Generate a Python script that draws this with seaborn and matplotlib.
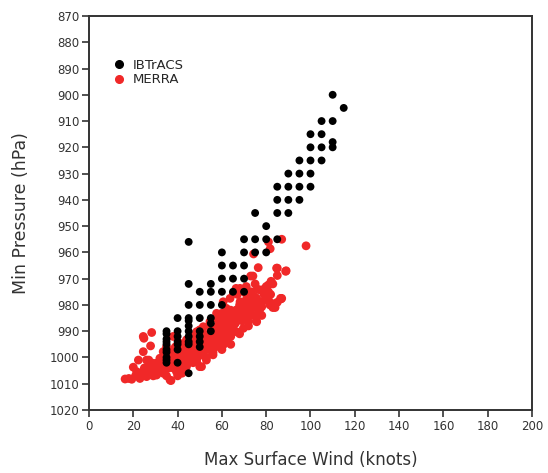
import numpy as np
import pandas as pd
import matplotlib
matplotlib.use("Agg")
import matplotlib.pyplot as plt
import seaborn as sns
from matplotlib.lines import Line2D

# IBTrACS best-track points (wind in knots, min pressure in hPa)
ibtracs_wind = [110, 115, 105, 110, 100, 105, 100, 105, 110, 110, 95, 100, 105,
                90, 95, 100, 85, 90, 95, 100, 85, 90, 95, 75, 85, 90, 80, 45,
                70, 75, 80, 85, 60, 70, 75, 80, 60, 65, 70, 60, 65, 70, 45, 55,
                50, 55, 60, 65, 70, 45, 50, 55, 60, 40, 45, 50, 55,
                35, 35, 35, 35, 35, 35, 35, 35, 35, 35,
                40, 40, 40, 40, 40, 40,
                45, 45, 45, 45, 45, 45, 45,
                50, 50, 50, 50, 55, 55]
ibtracs_pres = [900, 905, 910, 910, 915, 915, 920, 920, 918, 920, 925, 925, 925,
                930, 930, 930, 935, 935, 935, 935, 940, 940, 940, 945, 945, 945, 950, 956,
                955, 955, 955, 955, 960, 960, 960, 960, 965, 965, 965, 970, 970, 970, 972, 972,
                975, 975, 975, 975, 975, 980, 980, 980, 980, 985, 985, 985, 985,
                990, 991, 993, 994, 995, 997, 998, 1000, 1001, 1002,
                990, 992, 994, 995, 997, 1002,
                986, 988, 990, 992, 994, 995, 1006,
                990, 992, 994, 996, 990, 987]

# MERRA reanalysis points
merra_wind = [98, 87, 81, 81.8, 74.3, 76.4, 85, 89, 85, 74, 82.2, 81, 66.4, 68.2,
              65.2, 71.2, 75.7, 77.2, 79.5, 86.5, 87, 63.7, 60.6, 68.2, 74.2, 78,
              81.7, 82.5, 62, 66.6, 71.2, 75.7, 59.9, 57.6, 57.6, 63.7, 68.2, 71.9,
              75.7, 54.6, 60.6, 65.2, 69.7, 51.6, 54.6, 57.6, 62, 66.6, 48.6, 54.6,
              59, 63.7, 47, 56.2, 60.6, 59, 54.6, 62, 59, 60.6, 50, 56, 50, 38,
              51.6, 41, 45.6, 44, 41, 47, 36.5, 33.5, 38.8, 44, 48.6, 50.8, 41.8,
              39.5, 32, 26, 29, 32, 33.5, 30.5, 37, 36.6, 26, 23, 19.3, 16.3, 21.5,
              20, 22.3, 24.5, 27.8, 24.5, 28.3, 24.8, 44, 50, 75.5, 86.7, 84.7,
              88.8, 73, 70, 72,
              35, 36, 37, 38, 39, 40, 42, 43, 43, 45, 46, 47, 38, 34, 36, 42, 30,
              28, 25, 27, 23, 32,
              48, 49, 50, 51, 52, 53, 52, 55, 54, 56, 53, 49, 46, 47, 44, 57,
              56, 58, 60, 61, 62, 63, 64, 58, 60, 62, 65, 57, 59, 61, 63, 66, 64,
              66, 67, 68, 69, 70, 70, 71, 72, 73, 74, 69, 72, 67, 73, 76, 77, 78,
              79, 80, 82, 83, 85, 71, 75,
              18, 21, 29, 34, 40, 45, 51, 55, 58, 63, 67, 70, 74, 78, 81, 84, 41,
              39, 44, 48, 52, 57, 61, 65, 68, 72, 76, 80, 35, 31, 27, 53, 59, 64,
              33, 37, 41, 45, 49, 53, 57, 61, 65, 69, 73, 77, 81,
              31, 35, 39, 43, 47, 51, 55, 59, 63, 67, 71, 75, 79, 83,
              46, 50, 54, 58, 62, 66, 70,
              29, 26, 40, 43, 56, 60, 64, 68]
merra_pres = [957.5, 955, 956, 958.6, 960.6, 965.8, 966, 967, 968.8, 969, 971, 972.4,
              973.7, 973.7, 975.6, 976.2, 977.5, 974.3, 978.1, 977.5, 977.5, 977.5,
              978.8, 978.8, 980, 980.7, 980, 979.4, 981.3, 981.9, 982.6, 983.8, 983.2,
              983.2, 985.1, 985.1, 985.1, 986.4, 986.4, 986.4, 987.6, 987.6, 988.9,
              988.3, 988.3, 990.2, 990.2, 990.2, 990.2, 992, 992.7, 992, 994, 995.2,
              995.2, 995.9, 997.1, 984.5, 985.7, 989.5, 989.5, 992, 992, 992, 994.6,
              994.6, 995.9, 993.3, 998.4, 998.4, 999, 997.8, 1001, 1001, 1001.6,
              1003.5, 1003.5, 1005.4, 1000.3, 1001, 1002.2, 1003.5, 1006, 1006.7,
              1008.8, 1008.6, 1007.3, 1008, 1008.3, 1008.2, 1005.4, 1003.7, 1001,
              997.8, 995.6, 992, 990.5, 992.7, 1003.5, 1003.5, 986.1, 977.7, 966,
              967.2, 969, 975, 979,
              996, 1000, 1002, 997, 999, 1001, 996, 999, 1002, 998, 1000, 1002, 1004,
              1002, 1004, 1006, 1004, 1005, 1004, 1003, 1006, 1005,
              996, 993, 997, 999, 995, 993, 991, 994, 996, 998, 1000, 1000, 996, 992,
              997, 996,
              989, 988, 991, 986, 988, 990, 987, 993, 993, 994, 989, 991, 987, 983,
              983, 985, 982,
              987, 983, 981, 986, 984, 980, 978, 981, 984, 977, 979, 988, 976, 975,
              979, 982, 984, 976, 978, 976, 981, 979, 973, 972,
              1008, 1007, 1005, 1001, 999, 999, 996, 991, 990, 989, 984, 982, 981,
              979, 975, 981, 997, 1003, 1000, 998, 994, 990, 986, 984, 980, 977, 974,
              973, 1007, 1003, 1001, 1001, 995, 992,
              1004, 1003, 1000, 1002, 999, 997, 994, 992, 988, 985, 982, 980, 977,
              1002, 998, 996, 995, 993, 992, 989, 986, 984, 982, 980, 977, 974, 972,
              1001, 998, 995, 993, 990, 987, 983,
              1007, 1005, 1007, 1005, 999, 997, 995, 991]

df_ib = pd.DataFrame({"wind": ibtracs_wind, "pres": ibtracs_pres})
df_me = pd.DataFrame({"wind": merra_wind, "pres": merra_pres})

black = "#000000"
red = "#f02828"

sns.set_style("ticks")
plt.rcParams["font.family"] = ["DejaVu Sans"]

fig = plt.figure(figsize=(5.48, 4.73), dpi=100)
ax = fig.add_axes([0.1624, 0.1332, 0.8084, 0.833])

sns.scatterplot(data=df_me, x="wind", y="pres", color=red, s=40,
                edgecolor="none", ax=ax, zorder=2)
sns.scatterplot(data=df_ib, x="wind", y="pres", color=black, s=32,
                edgecolor="none", ax=ax, zorder=3)

ax.set_xlim(0, 200)
ax.set_ylim(1020, 870)
ax.set_xticks(np.arange(0, 201, 20))
ax.set_yticks(np.arange(870, 1021, 10))
ax.tick_params(axis="both", direction="out", length=5, width=1.2,
               labelsize=8.5, color="#333333", labelcolor="#333333", pad=2,
               top=False, right=False)
for sp in ax.spines.values():
    sp.set_linewidth(1.4)
    sp.set_color("#333333")
    sp.set_visible(True)

ax.set_xlabel("Max Surface Wind (knots)", fontsize=12, color="#333333",
              labelpad=13)
ax.set_ylabel("Min Pressure (hPa)", fontsize=12.5, color="#333333",
              labelpad=14)

handles = [Line2D([], [], marker="o", linestyle="none", color=black,
                  markersize=5.5, label="IBTrACS"),
           Line2D([], [], marker="o", linestyle="none", color=red,
                  markersize=5.5, label="MERRA")]
ax.legend(handles=handles, loc="upper left", bbox_to_anchor=(0.04, 0.905),
          frameon=False, fontsize=9.5, handletextpad=0.6, labelspacing=0.12,
          handlelength=1.0, borderaxespad=0)

fig.savefig("out.png", dpi=100)
